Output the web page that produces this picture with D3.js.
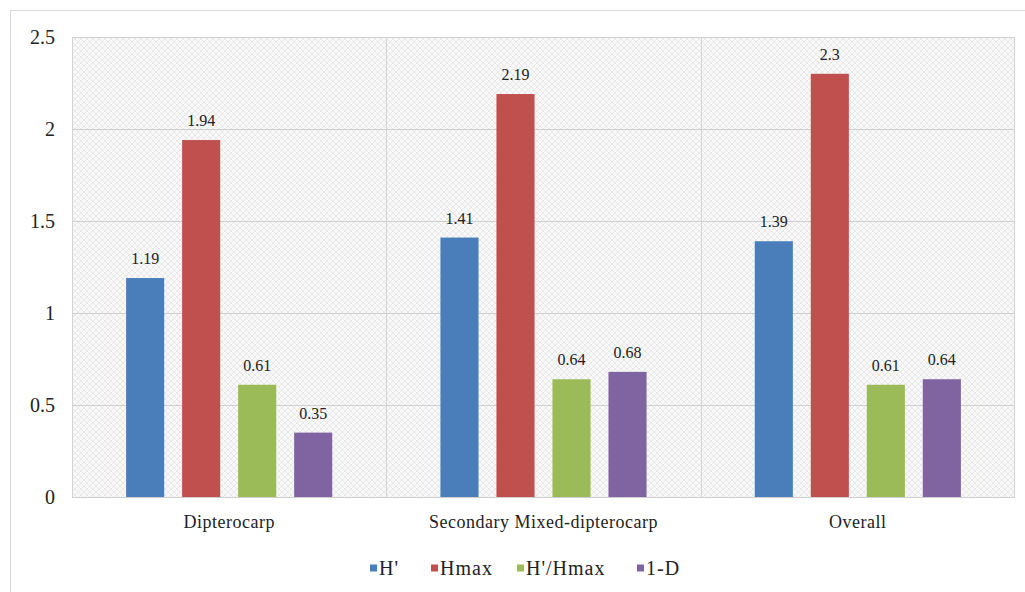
<!DOCTYPE html>
<html><head><meta charset="utf-8">
<script src="https://cdn.jsdelivr.net/npm/d3@7"></script>
<style>body{margin:0;background:#fff}svg{display:block}</style>
</head><body>
<svg id="c" width="1025" height="592"></svg>
<script>
const categories = ["Dipterocarp", "Secondary Mixed-dipterocarp", "Overall"];
const seriesNames = ["H'", "Hmax", "H'/Hmax", "1-D"];
const hPrime = [1.19, 1.41, 1.39];
const hMax = [1.94, 2.19, 2.3];
const hRatio = [0.61, 0.64, 0.61];
const oneMinusD = [0.35, 0.68, 0.64];
const yTicks = [0, 0.5, 1, 1.5, 2, 2.5];
const yTickLabels = ["0", "0.5", "1", "1.5", "2", "2.5"];
const colors = ["#4a7ebb", "#c0504d", "#9bbb59", "#8064a2"];

const seriesValues = [hPrime, hMax, hRatio, oneMinusD];
const svg = d3.select("#c");
const m = {l: 72, r: 1015, t: 37, b: 497};
const font = '"Liberation Serif","Tinos","Noto Serif","Nimbus Roman","FreeSerif","DejaVu Serif","Times New Roman",serif';

// outer frame
svg.append("rect").attr("x", 10.5).attr("y", 10.5).attr("width", 1025).attr("height", 600)
  .attr("fill", "#fff").attr("stroke", "#d9d9d9");

// pattern
const defs = svg.append("defs");
const pat = defs.append("pattern").attr("id", "hatch").attr("patternUnits", "userSpaceOnUse")
  .attr("width", 6).attr("height", 6);
pat.append("rect").attr("width", 6).attr("height", 6).attr("fill", "#f8f8f8");
pat.append("path").attr("d", "M0,6 L6,0 M0,0 L6,6").attr("stroke", "#e8e8e8").attr("stroke-width", 1);

const x0 = d3.scaleBand().domain(categories).range([m.l, m.r]).paddingInner(0).paddingOuter(0);
const x1 = d3.scaleBand().domain(seriesNames).range([0, x0.bandwidth()]).paddingInner(0.32).paddingOuter(0.966);
const y = d3.scaleLinear().domain([0, 2.5]).range([m.b, m.t]);

svg.append("rect").attr("x", m.l).attr("y", m.t).attr("width", m.r - m.l).attr("height", m.b - m.t)
  .attr("fill", "url(#hatch)");

// gridlines
svg.append("g").selectAll("line").data(yTicks).join("line")
  .attr("x1", m.l).attr("x2", m.r).attr("y1", d => Math.round(y(d)) + 0.5).attr("y2", d => Math.round(y(d)) + 0.5)
  .attr("stroke", "#cfcfcf").attr("stroke-width", 1);

// category separators
svg.append("g").selectAll("line").data(categories).join("line")
  .attr("x1", d => Math.round(x0(d)) + 0.5).attr("x2", d => Math.round(x0(d)) + 0.5)
  .attr("y1", m.t).attr("y2", m.b).attr("stroke", "#d4d4d4");
svg.append("line").attr("x1", m.r - 0.5).attr("x2", m.r - 0.5).attr("y1", m.t).attr("y2", m.b).attr("stroke", "#d4d4d4");

// y axis
const yAxis = d3.axisLeft(y).tickValues(yTicks).tickFormat((d, i) => yTickLabels[i]).tickSize(0).tickPadding(17);
const ya = svg.append("g").attr("transform", `translate(${m.l},0)`).call(yAxis).attr("font-family", null);
ya.select(".domain").remove();
ya.selectAll("text").style("font-family", font).style("font-size", "20px").attr("fill", "#222");

// x axis
const xAxis = d3.axisBottom(x0).tickSize(0).tickPadding(18);
const xa = svg.append("g").attr("transform", `translate(0,${m.b})`).call(xAxis).attr("font-family", null);
xa.select(".domain").remove();
xa.selectAll("text").style("font-family", font).style("font-size", "18px").style("letter-spacing", "0.5px").attr("fill", "#222");

// bars
const rows = [];
categories.forEach((c, ci) => seriesNames.forEach((s, si) => rows.push({c, s, si, v: seriesValues[si][ci]})));
const g = svg.append("g");
g.selectAll("rect").data(rows).join("rect")
  .attr("x", d => x0(d.c) + x1(d.s)).attr("width", x1.bandwidth())
  .attr("y", d => y(d.v)).attr("height", d => y(0) - y(d.v))
  .attr("fill", d => colors[d.si]);
g.selectAll("text").data(rows).join("text")
  .attr("x", d => x0(d.c) + x1(d.s) + x1.bandwidth() / 2).attr("y", d => y(d.v) - 14)
  .attr("text-anchor", "middle").style("font-family", font).style("font-size", "16px").attr("fill", "#222")
  .text(d => d.v);

// legend
const legendX = [370, 431, 517, 637];
const lg = svg.append("g").selectAll("g").data(seriesNames).join("g")
  .attr("transform", (d, i) => `translate(${legendX[i]},568)`);
lg.append("rect").attr("x", 0).attr("y", -3.5).attr("width", 7).attr("height", 7).attr("fill", (d, i) => colors[i]);
lg.append("text").attr("x", 9).attr("y", 6.5).style("font-family", font).style("font-size", "20px")
  .style("letter-spacing", "1px").attr("fill", "#222")
  .text(d => d);
</script>
</body></html>
